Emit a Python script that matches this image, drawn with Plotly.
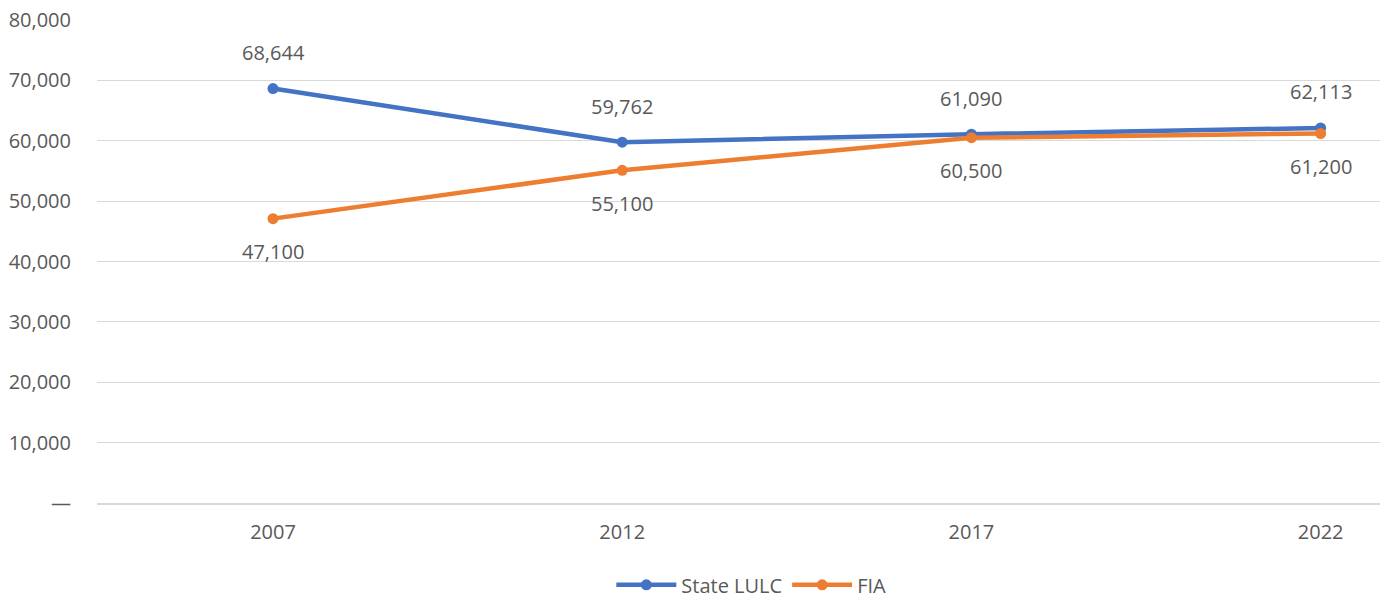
import plotly.graph_objects as go

years = ["2007", "2012", "2017", "2022"]
state_lulc = [68644, 59762, 61090, 62113]
fia = [47100, 55100, 60500, 61200]
y_ticks = [0, 10000, 20000, 30000, 40000, 50000, 60000, 70000, 80000]
y_tick_text = ["—", "10,000", "20,000", "30,000", "40,000", "50,000", "60,000", "70,000", "80,000"]

BLUE = "#4472C4"
ORANGE = "#ED7D31"
TEXT = "#595959"
FONT = "Open Sans"
FS = 20

fig = go.Figure()
fig.add_trace(go.Scatter(
    x=years, y=state_lulc, name="State LULC", mode="lines+markers",
    line=dict(color=BLUE, width=4.5), marker=dict(size=11, color=BLUE),
))
fig.add_trace(go.Scatter(
    x=years, y=fia, name="FIA", mode="lines+markers",
    line=dict(color=ORANGE, width=4.5), marker=dict(size=11, color=ORANGE),
))

# value labels: State LULC above its points, FIA below (x given as category index)
annotations = []
for i, v in enumerate(state_lulc):
    annotations.append(dict(x=i, y=v, xref="x", yref="y", text=f"{v:,}", showarrow=False,
                            yshift=36, font=dict(family=FONT, size=FS, color=TEXT)))
for i, v in enumerate(fia):
    annotations.append(dict(x=i, y=v, xref="x", yref="y", text=f"{v:,}", showarrow=False,
                            yshift=-33, font=dict(family=FONT, size=FS, color=TEXT)))

fig.update_layout(
    width=1388, height=601,
    margin=dict(l=97, r=8, t=20, b=98, autoexpand=False),
    paper_bgcolor="white", plot_bgcolor="white",
    font=dict(family=FONT, size=FS, color=TEXT),
    annotations=annotations,
    showlegend=True,
    legend=dict(orientation="h", x=0.51, xanchor="center", yref="container",
                y=0.027, yanchor="middle",
                font=dict(family=FONT, size=FS, color=TEXT), itemwidth=60),
)
fig.update_xaxes(
    type="category", range=[-0.504, 3.17],
    showgrid=False, showline=True, linecolor="#D9D9D9", linewidth=1.5,
    ticks="", ticklabelstandoff=10, tickfont=dict(family=FONT, size=FS, color=TEXT),
)
fig.update_yaxes(
    range=[0, 80000], tickvals=y_ticks, ticktext=y_tick_text,
    showgrid=True, gridcolor="#D9D9D9", gridwidth=1,
    zeroline=False, showline=False, ticks="", ticklabelstandoff=25,
    tickfont=dict(family=FONT, size=FS, color=TEXT),
)

fig.write_html("out.html")
